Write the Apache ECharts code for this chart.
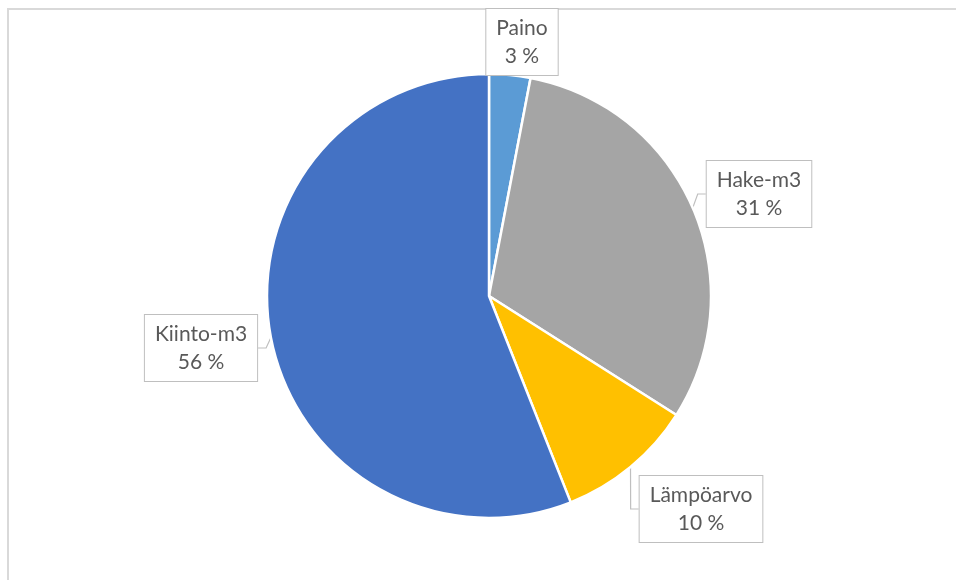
<!DOCTYPE html>
<html>
<head>
<meta charset="utf-8">
<script src="https://cdn.jsdelivr.net/npm/echarts@6/dist/echarts.min.js"></script>
<style>
  html, body { margin: 0; padding: 0; background: #fff; }
  #chart { width: 956px; height: 580px; }
</style>
</head>
<body>
<div id="chart"></div>
<script>
// Share of each measuring basis (%)
const categories = ['Paino', 'Hake-m3', 'Lämpöarvo', 'Kiinto-m3'];
const shares = [3, 31, 10, 56];
const colors = ['#5B9BD5', '#A5A5A5', '#FFC000', '#4472C4'];

// Callout box centres (px) and whether a pointer is drawn
const calloutCentres = [[522, 42], [759, 194], [701, 509], [201, 348]];
const calloutPointer = [false, true, true, true];

const chart = echarts.init(document.getElementById('chart'), null, { renderer: 'canvas' });

const data = categories.map((name, i) => ({
  name: name,
  value: shares[i],
  itemStyle: { color: colors[i] },
  labelLine: { show: calloutPointer[i] }
}));

chart.setOption({
  animation: false,
  backgroundColor: '#ffffff',
  graphic: [{
    type: 'rect',
    shape: { x: 8, y: 9, width: 1200, height: 1000 },
    style: { fill: 'none', stroke: '#d9d9d9', lineWidth: 2 },
    silent: true,
    z: -1
  }],
  series: [{
    type: 'pie',
    center: [489, 296],
    radius: [0, 222],
    startAngle: 90,
    clockwise: true,
    data: data,
    itemStyle: { borderColor: '#ffffff', borderWidth: 2.5 },
    label: {
      show: true,
      position: 'outside',
      formatter: '{b}\n{c} %',
      fontFamily: 'Lato, "Open Sans", sans-serif',
      fontSize: 21,
      lineHeight: 28,
      color: '#595959',
      align: 'center',
      backgroundColor: '#ffffff',
      borderColor: '#bfbfbf',
      borderWidth: 1,
      padding: [5, 10, 5, 10]
    },
    labelLine: {
      show: true,
      length: 8,
      length2: 8,
      lineStyle: { color: '#bfbfbf', width: 1.2 }
    },
    labelLayout: function (params) {
      const c = calloutCentres[params.dataIndex];
      return { x: c[0], y: c[1], align: 'center', verticalAlign: 'middle' };
    },
    emphasis: { disabled: true }
  }]
});
</script>
</body>
</html>
